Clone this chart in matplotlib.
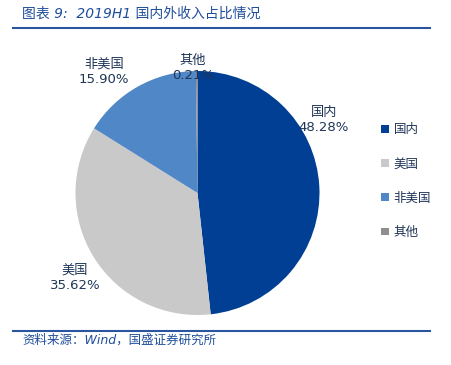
import matplotlib.pyplot as plt
from matplotlib.lines import Line2D

plt.rcParams['font.family'] = ['DejaVu Sans', 'Noto Sans CJK SC']

# data
labels = ['国内', '美国', '非美国', '其他']
shares = [48.28, 35.62, 15.90, 0.21]
colors = ['#003F93', '#C9C9C9', '#5087C7', '#8E8E8E']
title = '图表 9:  2019H1 国内外收入占比情况'
source = '资料来源：Wind，国盛证券研究所'

W, H = 452, 365
fig = plt.figure(figsize=(W / 100, H / 100), dpi=100)

# pie centred at pixel (197.5, 193), radius 122
cx, cy, r = 197.5, 193, 122
ax = fig.add_axes([(cx - r) / W, (H - cy - r) / H, 2 * r / W, 2 * r / H])
wedges, _ = ax.pie(shares, colors=colors, startangle=90, counterclock=False,
                   radius=1, wedgeprops=dict(linewidth=0))
ax.set_xlim(-1, 1)
ax.set_ylim(-1, 1)
ax.set_aspect('equal')
ax.axis('off')

# data labels (pixel positions of label centres)
label_pos = [(324, 120), (75, 278), (104, 72), (193, 68)]
txt = '#1F3556'
for (px, py), lab, v in zip(label_pos, labels, shares):
    ax.text((px - cx) / r, (cy - py) / r, f'{lab}\n{v:.2f}%', ha='center', va='center',
            fontsize=9.5, color=txt, linespacing=1.25,
            family=['DejaVu Sans', 'Noto Sans CJK SC'])

# legend
fig.legend(wedges, labels, loc='center left', bbox_to_anchor=(370 / W, 1 - 181 / H),
           frameon=False, fontsize=9, handlelength=0.6, handleheight=0.6,
           handletextpad=0.4, labelspacing=1.7, labelcolor=txt)

# header / footer
line_c = '#2A56A0'
fig.add_artist(Line2D([13 / W, 430 / W], [1 - 28 / H, 1 - 28 / H], color=line_c, lw=1.5))
fig.add_artist(Line2D([13 / W, 430 / W], [1 - 331 / H, 1 - 331 / H], color=line_c, lw=1.5))
fig.text(22 / W, 1 - 14 / H, title, fontsize=10, style='italic', color='#1F4E9A',
         va='center', ha='left')
fig.text(22 / W, 1 - 340 / H, source, fontsize=9, style='italic', color='#1F4E9A',
         va='center', ha='left')

fig.savefig('out.png', dpi=100)
